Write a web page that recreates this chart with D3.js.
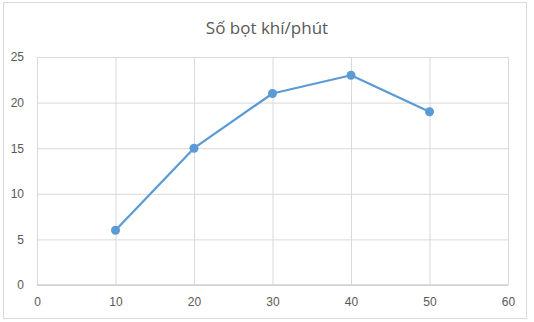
<!DOCTYPE html>
<html>
<head>
<meta charset="utf-8">
<script src="https://cdn.jsdelivr.net/npm/d3@7"></script>
<style>
  body { margin: 0; background: #fff; }
  svg { display: block; font-family: "Open Sans", sans-serif; }
  .tick text { fill: #595959; font-size: 12px; }
  .title { fill: #595959; font-size: 17px; }
</style>
</head>
<body>
<svg width="534" height="322"></svg>
<script>
const titleText = 'Số bọt khí/phút';
const xValues = [10, 20, 30, 40, 50];
const yValues = [6, 15, 21, 23, 19];
const xTicks = [0, 10, 20, 30, 40, 50, 60];
const yTicks = [0, 5, 10, 15, 20, 25];

const svg = d3.select('svg');
const width = +svg.attr('width');
const height = +svg.attr('height');

// chart frame
svg.append('rect')
    .attr('x', 3.5).attr('y', 2.5)
    .attr('width', 523).attr('height', 316)
    .attr('fill', '#fff')
    .attr('stroke', '#d9d9d9');

const margin = { top: 57, right: 26, bottom: 37, left: 37 };
const innerWidth = width - margin.left - margin.right;
const innerHeight = height - margin.top - margin.bottom;

const data = xValues.map((x, i) => ({ x, y: yValues[i] }));

const xScale = d3.scaleLinear().domain([0, 60]).range([0, innerWidth]);
const yScale = d3.scaleLinear().domain([0, 25]).range([innerHeight, 0]);

const g = svg.append('g')
    .attr('transform', `translate(${margin.left},${margin.top})`);

const yAxis = d3.axisLeft(yScale)
    .tickValues(yTicks)
    .tickSize(-innerWidth)
    .tickPadding(13);
const yAxisG = g.append('g').call(yAxis);
yAxisG.select('.domain').remove();
yAxisG.selectAll('.tick line').attr('stroke', '#d9d9d9');

const xAxis = d3.axisBottom(xScale)
    .tickValues(xTicks)
    .tickSize(-innerHeight)
    .tickPadding(12);
const xAxisG = g.append('g').call(xAxis)
    .attr('transform', `translate(0,${innerHeight})`);
xAxisG.select('.domain').remove();
xAxisG.selectAll('.tick line').attr('stroke', '#d9d9d9');

// axis lines
g.append('line')
    .attr('x1', 0).attr('x2', innerWidth)
    .attr('y1', innerHeight).attr('y2', innerHeight)
    .attr('stroke', '#d0d0d0').attr('stroke-width', 1.5);

const line = d3.line()
    .x(d => xScale(d.x))
    .y(d => yScale(d.y));

g.append('path')
    .datum(data)
    .attr('fill', 'none')
    .attr('stroke', '#5b9bd5')
    .attr('stroke-width', 2.25)
    .attr('stroke-linejoin', 'round')
    .attr('d', line);

g.selectAll('circle').data(data)
  .enter().append('circle')
    .attr('cx', d => xScale(d.x))
    .attr('cy', d => yScale(d.y))
    .attr('r', 4.5)
    .attr('fill', '#5b9bd5');

svg.append('text')
    .attr('class', 'title')
    .attr('x', 267)
    .attr('y', 34)
    .attr('text-anchor', 'middle')
    .text(titleText);
</script>
</body>
</html>
